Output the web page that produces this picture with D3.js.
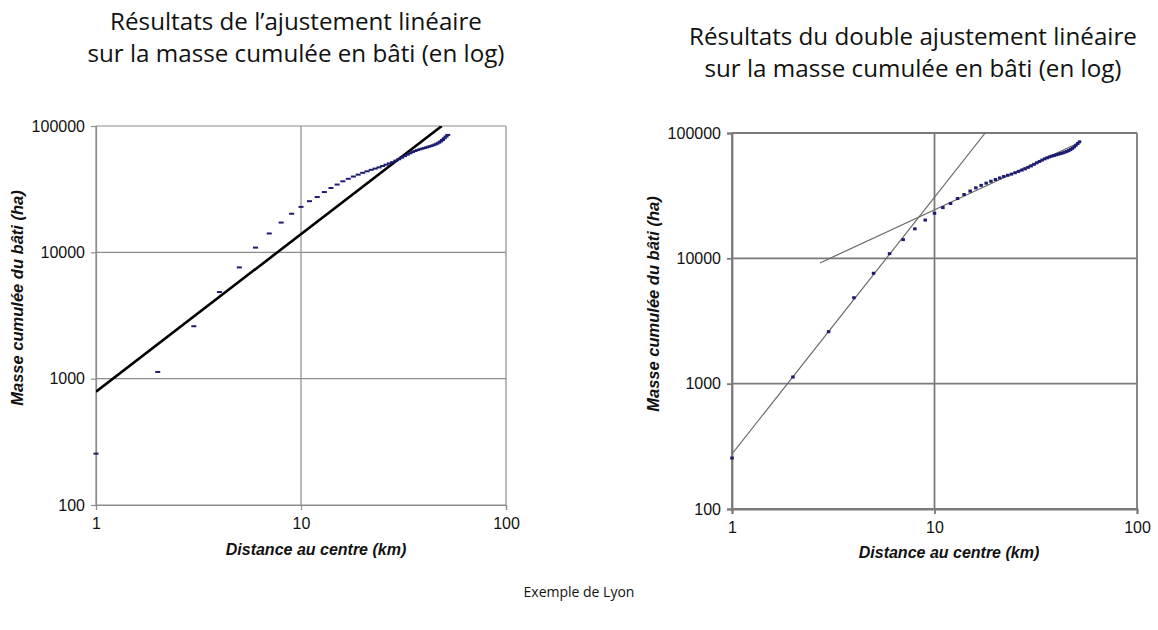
<!DOCTYPE html>
<html>
<head>
<meta charset="utf-8">
<script src="https://cdn.jsdelivr.net/npm/d3@7"></script>
<style>
  html, body { margin: 0; padding: 0; background: #fff; }
  svg { display: block; }
</style>
</head>
<body>
<svg id="chart" width="1158" height="630"></svg>
<script>
// ---------- DATA ----------
const distances = [1,2,3,4,5,6,7,8,9,10,11,12,13,14,15,16,17,18,19,20,21,22,23,24,25,26,27,28,29,30,31,32,33,34,35,36,37,38,39,40,41,42,43,44,45,46,47,48,49,50,51,52];
const masses = [255,1130,2600,4850,7600,10900,14100,17200,20200,22900,25400,27400,30000,32300,34400,36500,38200,39800,41200,42600,43800,45000,46000,47000,48200,49400,50600,51800,53200,54600,56200,57800,59300,60800,62200,63400,64500,65400,66200,67000,67800,68600,69400,70300,71300,72400,73800,75500,77500,80000,82500,85000];
const yTickValues = [100, 1000, 10000, 100000];
const xTickValues = [1, 10, 100];
// fitted lines: [distance, mass] endpoints
const singleFit = [[1, 789], [48.6, 100000]];
const steepFit = [[1, 275], [17.8, 100000]];
const shallowFit = [[2.72, 9190], [51.4, 83200]];

const titleLeft = ["Résultats de l\u2019ajustement linéaire", "sur la masse cumulée en bâti (en log)"];
const titleRight = ["Résultats du double ajustement linéaire", "sur la masse cumulée en bâti (en log)"];
const xTitle = "Distance au centre (km)";
const yTitle = "Masse cumulée du bâti (ha)";
const caption = "Exemple de Lyon";

// ---------- DRAW ----------
const svg = d3.select("#chart");

function panel(cfg) {
  const x = d3.scaleLog().domain([1, 100]).range([cfg.x0, cfg.x1]);
  const y = d3.scaleLog().domain([100, 100000]).range([cfg.y0, cfg.y1]);
  const g = svg.append("g");
  const gridColor = cfg.gridColor;

  g.selectAll("line.hg").data(yTickValues).enter().append("line")
    .attr("x1", cfg.x0).attr("x2", cfg.x1)
    .attr("y1", d => y(d)).attr("y2", d => y(d))
    .attr("stroke", gridColor).attr("stroke-width", cfg.gridW);
  g.selectAll("line.vg").data(xTickValues).enter().append("line")
    .attr("y1", cfg.y0).attr("y2", cfg.y1)
    .attr("x1", d => x(d)).attr("x2", d => x(d))
    .attr("stroke", gridColor).attr("stroke-width", cfg.gridW);

  const yAxis = d3.axisLeft(y).tickValues(yTickValues).tickFormat(d3.format("d")).tickSize(5).tickPadding(6);
  const ya = g.append("g").attr("transform", `translate(${cfg.x0},0)`).call(yAxis);
  const xAxis = d3.axisBottom(x).tickValues(xTickValues).tickFormat(d3.format("d")).tickSize(5).tickPadding(8);
  const xa = g.append("g").attr("transform", `translate(0,${cfg.y0})`).call(xAxis);
  [ya, xa].forEach(a => {
    a.select(".domain").attr("stroke", gridColor).attr("stroke-width", cfg.gridW);
    a.selectAll(".tick line").attr("stroke", gridColor).attr("stroke-width", cfg.gridW);
    a.selectAll(".tick text").attr("fill", "#111").style("font-family", "'Liberation Sans', Arial, sans-serif").style("font-size", "16px");
  });

  const clipId = "clip" + cfg.id;
  svg.append("clipPath").attr("id", clipId).append("rect")
    .attr("x", cfg.x0).attr("y", cfg.y1).attr("width", cfg.x1 - cfg.x0).attr("height", cfg.y0 - cfg.y1);

  const line = d3.line().x(d => x(d[0])).y(d => y(d[1]));
  cfg.fits.forEach(f => {
    g.append("path").datum(f.data).attr("d", line)
      .attr("fill", "none").attr("stroke", f.color).attr("stroke-width", f.w)
      .attr("clip-path", `url(#${clipId})`);
  });

  const pts = d3.zip(distances, masses);
  g.selectAll("rect.pt").data(pts).enter().append("rect")
    .attr("x", d => x(d[0]) - cfg.mw / 2).attr("y", d => y(d[1]) - cfg.mh / 2)
    .attr("width", cfg.mw).attr("height", cfg.mh).attr("fill", "#1c1c70");

  const t = svg.append("text").attr("text-anchor", "middle")
    .style("font-family", "'Open Sans', 'Noto Sans', sans-serif").style("font-size", "24.2px").attr("fill", "#111");
  cfg.title.forEach((s, i) => t.append("tspan").attr("x", cfg.tx).attr("y", cfg.ty + i * 32).text(s));

  svg.append("text").attr("x", cfg.xtx).attr("y", cfg.xty).attr("text-anchor", "middle")
    .style("font-family", "'Liberation Sans', Arial, sans-serif").style("font-size", "16px")
    .style("font-weight", "bold").style("font-style", "italic").attr("fill", "#111").text(xTitle);
  svg.append("text").attr("transform", `translate(${cfg.ytx},${cfg.yty}) rotate(-90)`).attr("text-anchor", "middle")
    .style("font-family", "'Liberation Sans', Arial, sans-serif").style("font-size", "16.5px")
    .style("font-weight", "bold").style("font-style", "italic").attr("fill", "#111").text(yTitle);
}

panel({
  id: "L", x0: 96, x1: 506, y0: 505, y1: 126, gridColor: "#8c8c8c", gridW: 1.2,
  fits: [{ data: singleFit, color: "#000", w: 2.6 }], mw: 5, mh: 2,
  title: titleLeft, tx: 296, ty: 30, xtx: 316, xty: 555, ytx: 23, yty: 298
});
panel({
  id: "R", x0: 732, x1: 1137, y0: 509, y1: 133, gridColor: "#7a7a7a", gridW: 1.8,
  fits: [{ data: steepFit, color: "#6a6a6a", w: 1.2 }, { data: shallowFit, color: "#6a6a6a", w: 1.2 }], mw: 3.5, mh: 3,
  title: titleRight, tx: 913, ty: 45, xtx: 949, xty: 558, ytx: 659, yty: 304
});

svg.append("text").attr("x", 579).attr("y", 597).attr("text-anchor", "middle")
  .style("font-family", "'Open Sans', 'Noto Sans', sans-serif").style("font-size", "14px").attr("fill", "#111").text(caption);
</script>
</body>
</html>
